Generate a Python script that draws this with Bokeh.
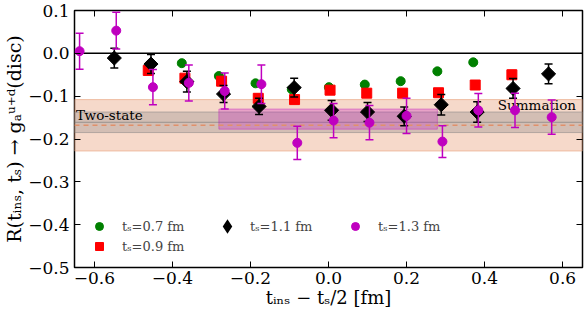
import numpy as np
from bokeh.plotting import figure
from bokeh.models import (BoxAnnotation, Span, Label, LinearAxis, FixedTicker,
                          CustomJSTickFormatter, Legend, LegendItem)
from bokeh.embed import file_html
from bokeh.resources import INLINE

# ---------------- data ----------------
x_07 = [-0.376, -0.281, -0.187, -0.094, 0.001, 0.093, 0.185, 0.279, 0.371]
y_07 = [-0.023, -0.053, -0.070, -0.084, -0.079, -0.073, -0.065, -0.042, -0.021]
e_07 = [0.004, 0.004, 0.004, 0.004, 0.004, 0.004, 0.004, 0.004, 0.004]

x_09 = [-0.462, -0.368, -0.274, -0.180, -0.087, 0.004, 0.098, 0.190, 0.282, 0.376, 0.470]
y_09 = [-0.040, -0.058, -0.065, -0.105, -0.108, -0.086, -0.093, -0.093, -0.092, -0.074, -0.050]
e_09 = [0.009, 0.008, 0.009, 0.009, 0.008, 0.008, 0.009, 0.009, 0.009, 0.009, 0.010]

x_11 = [-0.549, -0.455, -0.363, -0.269, -0.178, -0.088, 0.008, 0.100, 0.194, 0.289, 0.381, 0.473, 0.564]
y_11 = [-0.011, -0.025, -0.066, -0.095, -0.124, -0.080, -0.133, -0.137, -0.147, -0.120, -0.137, -0.082, -0.048]
e_11 = [0.023, 0.022, 0.024, 0.020, 0.019, 0.022, 0.023, 0.022, 0.022, 0.024, 0.024, 0.023, 0.023]

x_13 = [-0.638, -0.544, -0.450, -0.358, -0.266, -0.172, -0.080, 0.013, 0.105, 0.200, 0.292, 0.384, 0.478, 0.572]
y_13 = [0.005, 0.053, -0.079, -0.069, -0.088, -0.072, -0.209, -0.157, -0.162, -0.146, -0.206, -0.133, -0.133, -0.149]
e_13 = [0.042, 0.043, 0.041, 0.042, 0.042, 0.045, 0.039, 0.040, 0.040, 0.041, 0.037, 0.039, 0.040, 0.040]

labels = ["tₛ=0.7 fm", "tₛ=0.9 fm", "tₛ=1.1 fm", "tₛ=1.3 fm"]

summation_band = [-0.228, -0.108]
summation_center = -0.168
twostate_band = [-0.185, -0.137]
twostate_center = -0.161
fit13_x = [-0.281, 0.279]
fit13_y = [-0.177, -0.130]

x_ticks = [-0.6, -0.4, -0.2, 0.0, 0.2, 0.4, 0.6]
x_tick_labels = ["−0.6", "−0.4", "−0.2", "0.0", "0.2", "0.4", "0.6"]
y_ticks = [-0.5, -0.4, -0.3, -0.2, -0.1, 0.0, 0.1]
y_tick_labels = ["−0.5", "−0.4", "−0.3", "−0.2", "−0.1", "0.0", "0.1"]

x_title = "tᵢₙₛ − tₛ/2 [fm]"
y_title = "R(tᵢₙₛ, tₛ) → gₐᵘ⁺ᵈ(disc)"

# ---------------- figure ----------------
FONT = "DejaVu Serif"
X_RANGE = (-0.651, 0.651)
Y_RANGE = (-0.5, 0.1)

p = figure(width=584, height=313, x_range=X_RANGE, y_range=Y_RANGE,
           output_backend="svg", toolbar_location=None)
p.min_border_left = 72
p.min_border_right = 2
p.min_border_top = 10
p.min_border_bottom = 46
p.grid.visible = False
p.outline_line_color = "black"
p.outline_line_width = 1.5
p.background_fill_color = "white"
p.border_fill_color = "white"

fmt = CustomJSTickFormatter(code="return tick.toFixed(1).replace('-', String.fromCharCode(8722));")
blank = CustomJSTickFormatter(code="return '';")

for ax in list(p.xaxis) + list(p.yaxis):
    ax.major_tick_in = 6
    ax.major_tick_out = 0
    ax.minor_tick_line_color = None
    ax.axis_line_color = None
    ax.major_tick_line_color = "black"
    ax.major_label_text_font = FONT
    ax.major_label_text_font_size = "17px"
    ax.major_label_text_color = "black"
    ax.formatter = fmt
    ax.axis_label_text_font = FONT
    ax.axis_label_text_font_style = "normal"
    ax.axis_label_text_color = "black"
p.xaxis.ticker = FixedTicker(ticks=x_ticks)
p.yaxis.ticker = FixedTicker(ticks=y_ticks)
p.xaxis.major_label_overrides = dict(zip(x_ticks, x_tick_labels))
p.yaxis.major_label_overrides = dict(zip(y_ticks, y_tick_labels))
p.xaxis.major_label_standoff = 4
p.yaxis.major_label_standoff = 5
p.xaxis.axis_label = x_title
p.yaxis.axis_label = y_title
p.xaxis.axis_label_text_font_size = "18px"
p.yaxis.axis_label_text_font_size = "19px"
p.xaxis.axis_label_standoff = 0
p.yaxis.axis_label_standoff = 0

for place, ticks in (("right", y_ticks), ("above", x_ticks)):
    ax = LinearAxis(ticker=FixedTicker(ticks=ticks), formatter=blank,
                    major_tick_in=6, major_tick_out=0, minor_tick_line_color=None,
                    axis_line_color=None, major_label_standoff=0,
                    major_label_text_font_size="0px")
    p.add_layout(ax, place)

# ---------------- bands ----------------
p.add_layout(BoxAnnotation(bottom=summation_band[0], top=summation_band[1],
                           fill_color="#e8a07a", fill_alpha=0.4,
                           line_color="#e8a07a", line_alpha=0.6, line_width=1, level="underlay"))
p.add_layout(BoxAnnotation(bottom=twostate_band[0], top=twostate_band[1],
                           fill_color="gray", fill_alpha=0.3,
                           line_color="gray", line_alpha=0.5, line_width=1, level="underlay"))
p.add_layout(Span(location=twostate_center, dimension="width", line_color="gray",
                  line_alpha=0.7, line_width=1, level="underlay"))
p.add_layout(BoxAnnotation(left=fit13_x[0], right=fit13_x[1], bottom=fit13_y[0], top=fit13_y[1],
                           fill_color="#bf00bf", fill_alpha=0.25,
                           line_color="#bf00bf", line_alpha=0.35, line_width=1, level="underlay"))
p.add_layout(Span(location=summation_center, dimension="width", line_color="#e0906a",
                  line_dash="5 4", line_width=1.5, level="underlay"))
p.add_layout(Span(location=0.0, dimension="width", line_color="black",
                  line_width=1.5, level="underlay"))

p.add_layout(Label(x=-0.647, y=-0.163, text="Two-state", text_font=FONT,
                   text_font_size="13.5px", text_color="black", level="underlay"))
p.add_layout(Label(x=0.434, y=-0.140, text="Summation", text_font=FONT,
                   text_font_size="13.5px", text_color="black", level="underlay"))

# ---------------- series ----------------
series = [
    (x_07, y_07, e_07, "#008000", "circle", 9, 0.0, labels[0]),
    (x_09, y_09, e_09, "#ff0000", "square", 10, 0.0, labels[1]),
    (x_11, y_11, e_11, "black", "square", 10, np.pi / 4, labels[2]),
    (x_13, y_13, e_13, "#bf00bf", "circle", 9, 0.0, labels[3]),
]
rend = {}
for xs, ys, es, col, mk, sz, ang, lab in series:
    lo = [y - e for y, e in zip(ys, es)]
    hi = [y + e for y, e in zip(ys, es)]
    p.segment(x0=xs, y0=lo, x1=xs, y1=hi, line_color=col, line_width=1.5)
    p.scatter(xs, hi, marker="dash", size=8, line_color=col, line_width=1.5)
    p.scatter(xs, lo, marker="dash", size=8, line_color=col, line_width=1.5)
    rend[lab] = p.scatter(xs, ys, marker=mk, size=sz, angle=ang, fill_color=col,
                          line_color=col, line_width=1)

# legend swatch for the diamonds (renderer hidden; the plotted diamonds are above)
rend_diamond_key = p.scatter(x_11[:1], y_11[:1], marker="diamond", size=14,
                             fill_color="black", line_color="black", line_width=3.5,
                             line_join="miter", visible=False)
legend_renderers = {labels[0]: rend[labels[0]], labels[1]: rend[labels[1]],
                    labels[2]: rend_diamond_key, labels[3]: rend[labels[3]]}

order = [labels[0], labels[2], labels[3], labels[1]]
legend = Legend(items=[LegendItem(label=l, renderers=[legend_renderers[l]]) for l in order],
                location=(15, 11), orientation="horizontal", ncols=3,
                spacing=0, padding=0, margin=0, glyph_width=20, glyph_height=20,
                label_height=20, label_width=95, label_standoff=13,
                label_text_font=FONT, label_text_font_size="13px",
                label_text_baseline="middle",
                background_fill_alpha=0, border_line_color=None)
p.add_layout(legend)

open("out.html", "w").write(file_html(p, INLINE))
